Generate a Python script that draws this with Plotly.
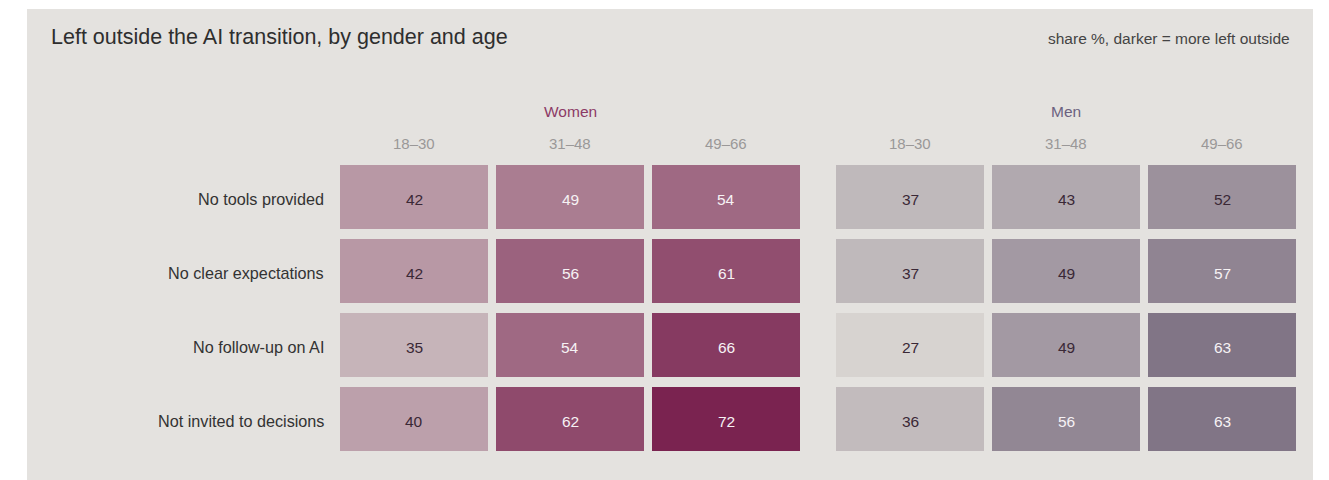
import plotly.graph_objects as go

rows = ["No tools provided", "No clear expectations", "No follow-up on AI", "Not invited to decisions"]
ages = ["18–30", "31–48", "49–66"]
women = [[42, 49, 54], [42, 56, 61], [35, 54, 66], [40, 62, 72]]
men = [[37, 43, 52], [37, 49, 57], [27, 49, 63], [36, 56, 63]]

W, H = 1329, 480
OX, OY = 8, 8  # page body margin offset
LIGHT = "#d7d3d0"
WOMEN_DARK = "#7a2350"
MEN_DARK = "#6c5d73"
ZMIN, ZMAX = 27, 72


def px(x):
    return (x - OX) / W


def py(y):
    return 1 - (y - OY) / H


def hex2rgb(h):
    h = h.lstrip("#")
    return tuple(int(h[i:i + 2], 16) for i in (0, 2, 4))


def interp(c0, c1, t):
    a, b = hex2rgb(c0), hex2rgb(c1)
    return tuple(a[i] + (b[i] - a[i]) * t for i in range(3))


def text_color(v, dark):
    r, g, b = interp(LIGHT, dark, (v - ZMIN) / (ZMAX - ZMIN))
    lum = 0.299 * r + 0.587 * g + 0.114 * b
    return "#f6f2f4" if lum < 141 else "#3a2836"


fig = go.Figure()
fig.add_trace(go.Heatmap(
    z=women, x=ages, y=rows, xaxis="x", yaxis="y",
    colorscale=[[0, LIGHT], [1, WOMEN_DARK]], zmin=ZMIN, zmax=ZMAX,
    showscale=False, xgap=8, ygap=10, hoverinfo="skip"))
fig.add_trace(go.Heatmap(
    z=men, x=ages, y=rows, xaxis="x2", yaxis="y",
    colorscale=[[0, LIGHT], [1, MEN_DARK]], zmin=ZMIN, zmax=ZMAX,
    showscale=False, xgap=8, ygap=10, hoverinfo="skip"))

FONT = "Liberation Sans, Arial, Helvetica, sans-serif"
ann = []
for gi, (data, dark, xr) in enumerate([(women, WOMEN_DARK, "x"), (men, MEN_DARK, "x2")]):
    for ri, r in enumerate(rows):
        for ci, a in enumerate(ages):
            v = data[ri][ci]
            ann.append(dict(x=a, y=r, xref=xr, yref="y", text=str(v), showarrow=False, yshift=-2,
                            font=dict(family=FONT, size=15.5, color=text_color(v, dark))))
    for a in ages:
        ann.append(dict(x=a, y=py(143), xref=xr, yref="paper", text=a, showarrow=False,
                        yanchor="middle", font=dict(family=FONT, size=15, color="#9a9898")))
ann.append(dict(x="31–48", y=py(111), xref="x", yref="paper", text="Women", showarrow=False,
                yanchor="middle", font=dict(family=FONT, size=15.5, color="#8c3a66")))
ann.append(dict(x="31–48", y=py(111), xref="x2", yref="paper", text="Men", showarrow=False,
                yanchor="middle", font=dict(family=FONT, size=15.5, color="#6b6180")))
for r in rows:
    ann.append(dict(x=px(326), y=r, xref="paper", yref="y", text=r, showarrow=False, yshift=-2,
                    xanchor="right", font=dict(family=FONT, size=16.2, color="#333333")))
ann.append(dict(x=px(49), y=py(37), xref="paper", yref="paper", xanchor="left", yanchor="middle",
                text="Left outside the AI transition, by gender and age", showarrow=False,
                font=dict(family=FONT, size=21.5, color="#2e2e2e")))
ann.append(dict(x=px(1292), y=py(39), xref="paper", yref="paper", xanchor="right", yanchor="middle",
                text="share %, darker = more left outside", showarrow=False,
                font=dict(family=FONT, size=15.5, color="#444444")))

fig.update_layout(
    width=W, height=H, margin=dict(l=0, r=0, t=0, b=0),
    paper_bgcolor="white", plot_bgcolor="rgba(0,0,0,0)",
    showlegend=False, annotations=ann,
    shapes=[dict(type="rect", xref="paper", yref="paper", x0=px(27), x1=px(1313), y0=-0.05, y1=py(9),
                 fillcolor="#e4e2df", line=dict(width=0), layer="below")],
    xaxis=dict(domain=[px(336), px(804)], showticklabels=False, showgrid=False, zeroline=False),
    xaxis2=dict(domain=[px(832), px(1300)], showticklabels=False, showgrid=False, zeroline=False,
                anchor="y"),
    yaxis=dict(domain=[py(456), py(160)], autorange="reversed", showticklabels=False,
               showgrid=False, zeroline=False),
)

fig.write_html("out.html")
